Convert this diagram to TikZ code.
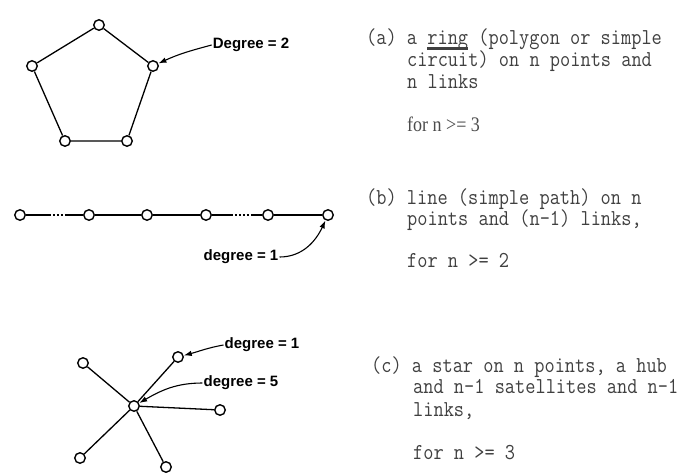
\documentclass[tikz,border=0pt]{standalone}
\usepackage{fontspec}
\setsansfont{Liberation Sans}
\newfontfamily\romain{Liberation Serif}
\usetikzlibrary{arrows.meta}
% soulignement epais et texte etire
\newcommand\souligne[1]{\setbox0\hbox{#1}\rlap{\rule[-5pt]{\wd0}{2pt}}\box0\relax}
\newcommand\etire[1]{\scalebox{1}[1.15]{#1}}
\begin{document}
\begin{tikzpicture}[x=1pt,y=-1pt]
		% Styles (MODIFIABLES)
		\tikzstyle{sommet}=[circle,draw,line width=1.4pt,inner sep=0pt,minimum size=10.5pt]
		\tikzstyle{arete}=[-,line width=1.3pt]
		\tikzstyle{pointilleA}=[arete,dash pattern=on 25pt off 2pt on 2pt off 2pt on 2pt off 2pt on 2pt off 2pt on 40pt]
		\tikzstyle{pointilleB}=[arete,dash pattern=on 21pt off 2pt on 2pt off 2pt on 2pt off 2pt on 2pt off 2pt on 2pt off 2pt on 40pt]
		\tikzstyle{fleche}=[-{Latex[length=8pt,width=5.5pt]},line width=1.1pt]
		\tikzstyle{etiquette}=[font=\sffamily\bfseries\fontsize{15}{18}\selectfont,inner sep=1pt]
		\tikzstyle{texte}=[anchor=base west,inner sep=0pt,font=\ttfamily\fontsize{19.8}{21}\selectfont,text=black!75]
		\tikzstyle{condition}=[anchor=base west,inner sep=0pt,font=\romain\fontsize{18}{21}\selectfont,text=black!70]
		% Dimensions (MODIFIABLES)
		\def\MargeAB{366}
		\def\RetraitAB{407}
		\def\MargeC{371}
		\def\RetraitC{413}
		\def\NiveauLigne{215}
		\useasboundingbox (0,0) rectangle (685,472);
		% (a) Anneau
		\node[sommet] (A1) at (99,25) {};
		\node[sommet] (A2) at (153,66) {};
		\node[sommet] (A3) at (127,141) {};
		\node[sommet] (A4) at (65,141) {};
		\node[sommet] (A5) at (32,66) {};
		\draw[arete] (A1)--(A2)--(A3)--(A4)--(A5)--(A1);
		\node[etiquette] (dA) at (251,45) {Degree = 2};
		\draw[fleche] (dA.west) to[out=195,in=25] (A2);
		%
		\node[texte] (a1) at (\MargeAB,44) {\etire{(a) a \souligne{ring} (polygon or simple}};
		\node[texte] (a2) at (\RetraitAB,66) {\etire{circuit) on n points and}};
		\node[texte] (a3) at (\RetraitAB,88) {\etire{n links}};
		\node[condition] (a4) at (\RetraitAB,131) {\etire{for n >= 3}};
		% (b) Ligne
		\node[sommet] (B1) at (20,\NiveauLigne) {};
		\node[sommet] (B2) at (89,\NiveauLigne) {};
		\node[sommet] (B3) at (147,\NiveauLigne) {};
		\node[sommet] (B4) at (206,\NiveauLigne) {};
		\node[sommet] (B5) at (268,\NiveauLigne) {};
		\node[sommet] (B6) at (328,\NiveauLigne) {};
		\draw[pointilleA] (B1)--(B2);
		\draw[arete] (B2)--(B3)--(B4);
		\draw[pointilleB] (B4)--(B5);
		\draw[arete] (B5)--(B6);
		\node[etiquette] (dB) at (241,257) {degree = 1};
		\draw[fleche] (dB.east) to[out=0,in=-115] (B6);
		%
		\node[texte] (b1) at (\MargeAB,204) {\etire{(b) line (simple path) on n}};
		\node[texte] (b2) at (\RetraitAB,225) {\etire{points and (n-1) links,}};
		\node[texte] (b3) at (\RetraitAB,267) {\etire{for n >= 2}};
		% (c) Etoile
		\node[sommet] (H) at (134,406) {};
		\node[sommet] (S1) at (83,363) {};
		\node[sommet] (S2) at (178,357) {};
		\node[sommet] (S3) at (220,410) {};
		\node[sommet] (S4) at (80,458) {};
		\node[sommet] (S5) at (166,467) {};
		\foreach \s in {S1,S2,S3,S4,S5}
			\draw[arete] (H)--(\s);
		\node[etiquette] (dC1) at (262,345) {degree = 1};
		\node[etiquette] (dC5) at (241,383) {degree = 5};
		\draw[fleche] (dC1.west) to[out=190,in=15] (S2);
		\draw[fleche] (dC5.west) to[out=180,in=30] (H);
		%
		\node[texte] (c1) at (\MargeC,372) {\etire{(c) a star on n points, a hub}};
		\node[texte] (c2) at (\RetraitC,393) {\etire{and n-1 satellites and n-1}};
		\node[texte] (c3) at (\RetraitC,416) {\etire{links,}};
		\node[texte] (c4) at (\RetraitC,459) {\etire{for n >= 3}};
	\end{tikzpicture}
\end{document}
